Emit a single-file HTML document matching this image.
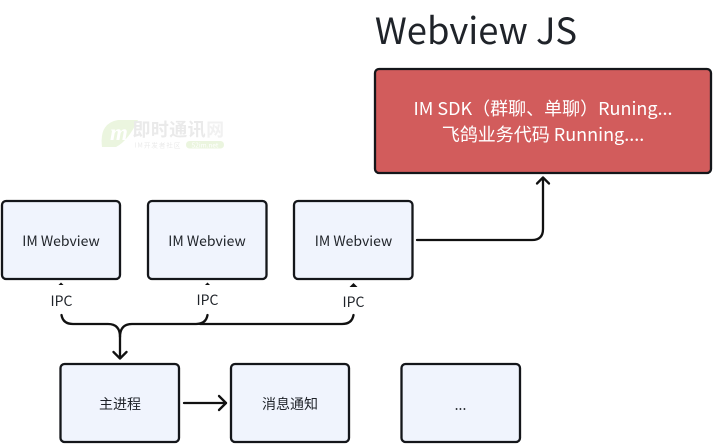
<!DOCTYPE html>
<html>
<head>
<meta charset="utf-8">
<style>
html,body{margin:0;padding:0;background:#fff;width:714px;height:445px;overflow:hidden}
svg{display:block}
text{font-family:"Noto Sans CJK SC","Liberation Sans",sans-serif;fill:#1f2329;text-anchor:middle}
.b{fill:#f0f4fd;stroke:#14161a;stroke-width:2.300}
.l{fill:none;stroke:#111;stroke-width:2.300;stroke-linecap:round;stroke-linejoin:round}
.t{font-size:14px}
</style>
</head>
<body>
<svg width="714" height="445" viewBox="0 0 714 445" xmlns="http://www.w3.org/2000/svg">
<!-- watermark -->
<g opacity="0.9">
<path d="M102 147 Q99 123 118 120 L138 120 Q128 141 116 147 Z" fill="#e9f5dc"/>
<text x="119" y="140" style="font-size:23px;font-style:italic;font-weight:700;fill:#fff;font-family:'Liberation Serif',serif">m</text>
<text x="178.500" y="136" style="font-size:18px;font-weight:700;fill:#e8e8e8;letter-spacing:0.4px">即时通讯<tspan fill="#f0f0f0">网</tspan></text>
<text x="158" y="147.500" style="font-size:6.500px;fill:#e8e8e8;letter-spacing:1px">IM开发者社区</text>
<rect x="186" y="141" width="38" height="7.500" rx="3.500" fill="#e9f5dc"/>
<text x="205" y="147.500" style="font-size:6.500px;fill:#fff">52im.net</text>
</g>

<text x="476" y="44" style="font-size:36.400px">Webview JS</text>

<rect x="375" y="69" width="336" height="104" rx="4" fill="#d25c5c" stroke="#14161a" stroke-width="2.300"/>
<text x="543" y="115" style="font-size:18px;fill:#fff">IM SDK（群聊、单聊）Runing...</text>
<text x="543" y="141" style="font-size:18px;fill:#fff">飞鸽业务代码 Running....</text>

<rect class="b" x="2" y="201" width="118" height="78" rx="4"/>
<rect class="b" x="148" y="201" width="118.500" height="78" rx="4"/>
<rect class="b" x="294" y="201" width="118.500" height="78" rx="4"/>
<text class="t" x="61" y="246">IM Webview</text>
<text class="t" x="207" y="246">IM Webview</text>
<text class="t" x="353.500" y="246">IM Webview</text>

<rect class="b" x="60.500" y="364" width="118.500" height="78" rx="4"/>
<rect class="b" x="231" y="364" width="118" height="78" rx="4"/>
<rect class="b" x="401.500" y="364" width="118.500" height="78" rx="4"/>
<text class="t" x="120" y="409">主进程</text>
<text class="t" x="290" y="409">消息通知</text>
<text class="t" x="460.500" y="410">...</text>

<text class="t" x="61.500" y="306">IPC</text>
<text class="t" x="207.500" y="305">IPC</text>
<text class="t" x="353.500" y="307">IPC</text>

<!-- small arrow tips -->
<path d="M58.500 285 L61 282.500 L63.500 285 Z" fill="#111"/>
<path d="M205 285 L207.500 282.500 L210 285 Z" fill="#111"/>
<path d="M349.500 287 L353.500 283 L357.500 287 Z" fill="#111"/>

<!-- IPC connectors -->
<path class="l" d="M61.500 315 Q63 324 73 324 L108 324 Q120 324 120 337 L120 358"/>
<path class="l" d="M207.500 315 Q206 324 196 324 L132 324 Q120 324 120 337"/>
<path class="l" d="M353.500 315 Q352 324 342 324 L200 324"/>
<path class="l" d="M113.500 352 L120 358.500 L126.500 352"/>

<!-- Main to notification -->
<path class="l" d="M184 403 L226 403"/>
<path class="l" d="M219 396 L226 403 L219 410"/>

<!-- Webview to JS -->
<path class="l" d="M417 240 L532 240 Q543 240 543 229 L543 178"/>
<path class="l" d="M537 183.500 L543 177.500 L549 183.500"/>
</svg>
</body>
</html>
